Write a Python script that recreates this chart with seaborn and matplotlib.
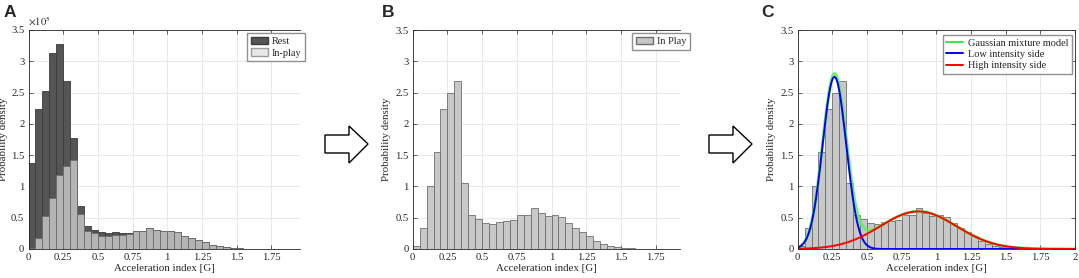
import numpy as np
import pandas as pd
import matplotlib
matplotlib.use("Agg")
import matplotlib.pyplot as plt
from matplotlib.patches import Polygon, Patch
from matplotlib.lines import Line2D
from matplotlib.ticker import FuncFormatter
import seaborn as sns

# bin edges: 0.05 G wide, 0 .. 2 G
bin_edges = np.round(np.arange(0, 2.0001, 0.05), 3)
bin_centers = (bin_edges[:-1] + bin_edges[1:]) / 2

# panel A, probability density x 1e5
rest_a = [1.38, 2.24, 2.52, 3.14, 3.28, 2.68, 1.78, 0.68, 0.36, 0.31,
          0.27, 0.25, 0.27, 0.26, 0.25, 0.28, 0.29, 0.34, 0.31, 0.28,
          0.28, 0.27, 0.21, 0.17, 0.14, 0.11, 0.07, 0.04, 0.03, 0.02,
          0.012, 0.006, 0.003, 0.002, 0.001, 0.0, 0.0, 0.0, 0.0, 0.0]
inplay_a = [0.01, 0.17, 0.53, 0.81, 1.18, 1.33, 1.42, 0.56, 0.29, 0.25,
            0.21, 0.21, 0.23, 0.23, 0.24, 0.28, 0.29, 0.34, 0.31, 0.28,
            0.28, 0.27, 0.21, 0.17, 0.14, 0.11, 0.07, 0.04, 0.03, 0.02,
            0.012, 0.006, 0.003, 0.002, 0.001, 0.0, 0.0, 0.0, 0.0, 0.0]

# panels B and C, in-play probability density
inplay_b = [0.04, 0.33, 1.01, 1.55, 2.23, 2.49, 2.68, 1.06, 0.55, 0.48,
            0.41, 0.40, 0.43, 0.44, 0.46, 0.54, 0.54, 0.65, 0.58, 0.53,
            0.54, 0.51, 0.41, 0.33, 0.27, 0.20, 0.13, 0.08, 0.05, 0.03,
            0.02, 0.01, 0.006, 0.004, 0.002, 0.001, 0.0, 0.0, 0.0, 0.0]

# gaussian mixture components: (weight, mean, sd)
low_side = (0.586, 0.265, 0.085)
high_side = (0.414, 0.87, 0.275)

sns.set_theme(style="whitegrid")
plt.rcParams["font.family"] = ["Liberation Serif", "DejaVu Serif"]
plt.rcParams["mathtext.fontset"] = "stix"

W, H = 1079, 278
fig = plt.figure(figsize=(W / 100, H / 100), dpi=100)

TICK_FS = 7.7
LABEL_FS = 7.8
LEG_FS = 7.4


def px_axes(x0, x1, y_top=30, y_bot=249):
    ax = fig.add_axes([x0 / W, (H - y_bot) / H, (x1 - x0) / W, (y_bot - y_top) / H])
    ax.width_px = x1 - x0
    return ax


def style_axes(ax, xmax, right_spine, ymax=3.5, ylab_px=22):
    ax.set_xlim(0, xmax)
    ax.set_ylim(0, ymax)
    ax.set_xticks([0, 0.25, 0.5, 0.75, 1, 1.25, 1.5, 1.75, 2][: 9 if xmax >= 2 else 8])
    ax.xaxis.set_major_formatter(FuncFormatter(lambda v, p: f"{v:g}"))
    ax.grid(True, color="#e4e4e4", linewidth=0.6)
    ax.set_axisbelow(True)
    for s in ["left", "bottom", "top"]:
        ax.spines[s].set_visible(True)
        ax.spines[s].set_color("#262626")
        ax.spines[s].set_linewidth(0.6)
    ax.spines["right"].set_visible(right_spine)
    ax.spines["right"].set_color("#262626")
    ax.spines["right"].set_linewidth(0.6)
    ax.tick_params(direction="in", length=3, width=0.5, color="#262626",
                   labelsize=TICK_FS, pad=3, top=True, right=right_spine,
                   bottom=True, left=True, labelcolor="#262626")
    ax.set_xlabel("Acceleration index [G]", fontsize=LABEL_FS, labelpad=1, color="#262626")
    ax.set_ylabel("Probability density", fontsize=LABEL_FS, color="#262626")
    ax.yaxis.set_label_coords(-ylab_px / ax.width_px, 0.5)


def bars(ax, heights, face, edge, scale=1.0):
    df = pd.DataFrame({"x": bin_centers, "w": np.array(heights, dtype=float) * scale})
    sns.histplot(data=df, x="x", weights="w", binwidth=0.05, binrange=(0, 2),
                 color=face, edgecolor=edge, linewidth=0.6, alpha=1, ax=ax)


leg_kw = dict(fontsize=LEG_FS, frameon=True, fancybox=False, edgecolor="#909090",
              framealpha=1, borderpad=0.35, labelspacing=0.2, borderaxespad=0)

# ---- panel A
ax_a = px_axes(28.5, 300)
bars(ax_a, rest_a, "#555555", "#3a3a3a", 1e5)
bars(ax_a, inplay_a, "#b4b4b4", "#6a6a6a", 1e5)
style_axes(ax_a, 271.5 / 138.7, False, ymax=3.5e5, ylab_px=20)
ax_a.set_yticks(np.arange(0, 3.51, 0.5) * 1e5)
ax_a.yaxis.set_major_formatter(FuncFormatter(lambda v, p: f"{v / 1e5:g}"))
ax_a.text(0.0, 1.01, r"$\times10^5$", transform=ax_a.transAxes, fontsize=TICK_FS,
          ha="left", va="bottom", color="#262626")
ax_a.legend(handles=[Patch(facecolor="#555555", edgecolor="#3a3a3a", label="Rest"),
                     Patch(facecolor="#e8e8e8", edgecolor="#9a9a9a", label="In-play")],
            loc="upper left", bbox_to_anchor=((247 - 28.5) / 271.5, 1 - 3 / 219),
            handlelength=1.7, handleheight=0.8, handletextpad=0.35, **leg_kw)

# ---- panel B
ax_b = px_axes(412.7, 680)
bars(ax_b, inplay_b, "#c8c8c8", "#6e6e6e")
style_axes(ax_b, 267.3 / 138.8, False)
ax_b.yaxis.set_major_formatter(FuncFormatter(lambda v, p: f"{v:g}"))
ax_b.legend(handles=[Patch(facecolor="#c8c8c8", edgecolor="#6e6e6e", label="In Play")],
            loc="upper left", bbox_to_anchor=((632 - 412.7) / 267.3, 1 - 3 / 219),
            handlelength=1.7, handleheight=0.8, handletextpad=0.35, **leg_kw)

# ---- panel C
ax_c = px_axes(797.7, 1075)
bars(ax_c, inplay_b, "#c8c8c8", "#6e6e6e")
xs = np.linspace(0, 2, 400)


def comp(p):
    w, m, s = p
    return w / (s * np.sqrt(2 * np.pi)) * np.exp(-0.5 * ((xs - m) / s) ** 2)


curves = pd.DataFrame({"x": xs, "low": comp(low_side), "high": comp(high_side)})
curves["gmm"] = curves["low"] + curves["high"]
sns.lineplot(data=curves, x="x", y="gmm", color="#5cf05c", linewidth=2.2, alpha=0.85, ax=ax_c)
sns.lineplot(data=curves, x="x", y="low", color="#0000ff", linewidth=1.4, ax=ax_c)
sns.lineplot(data=curves, x="x", y="high", color="#ff0000", linewidth=1.4, ax=ax_c)
style_axes(ax_c, 2, True)
ax_c.yaxis.set_major_formatter(FuncFormatter(lambda v, p: f"{v:g}"))
ax_c.legend(handles=[Line2D([], [], color="#33ee33", lw=1.4, label="Gaussian mixture model"),
                     Line2D([], [], color="#0000ff", lw=1.4, label="Low intensity side"),
                     Line2D([], [], color="#ff0000", lw=1.4, label="High intensity side")],
            loc="upper right", bbox_to_anchor=((1072 - 797.7) / 277.3, 1 - 5 / 219),
            handlelength=1.6, handletextpad=0.5, **leg_kw)

# panel letters
for lbl, xp in [("A", 4), ("B", 382), ("C", 761)]:
    fig.text(xp / W, 1 - 5 / H, lbl, fontsize=12.5, fontweight="bold",
             family=["Liberation Sans", "DejaVu Sans"], ha="left", va="top")


# hollow block arrows between the panels
def block_arrow(x0):
    pts = [(x0, 135), (x0 + 24, 135), (x0 + 24, 126), (x0 + 43, 144),
           (x0 + 24, 163), (x0 + 24, 153), (x0, 153)]
    pts = [(x / W, 1 - y / H) for x, y in pts]
    fig.patches.append(Polygon(pts, closed=True, facecolor="white", edgecolor="black",
                               linewidth=1.0, transform=fig.transFigure, figure=fig))


block_arrow(325)
block_arrow(709)

fig.savefig("out.png", dpi=100)
